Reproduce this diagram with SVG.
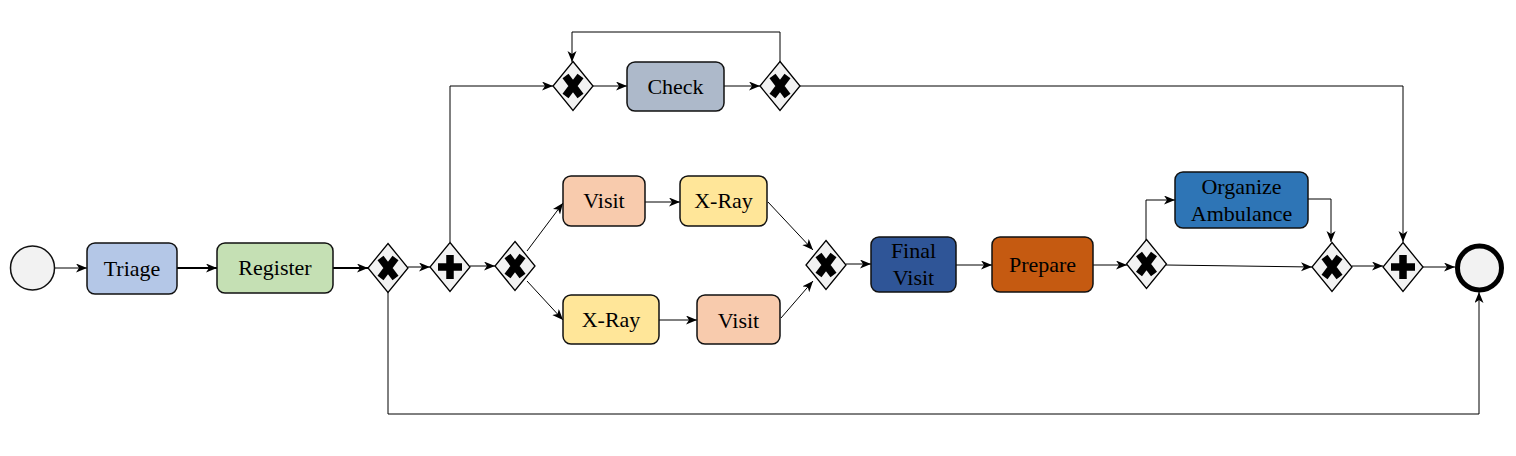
<svg xmlns="http://www.w3.org/2000/svg" xmlns:xlink="http://www.w3.org/1999/xlink" width="1516" height="456" viewBox="0 0 1516 456">
<style>
.task{stroke:#111;stroke-width:1.5}
.lbl{font-size:22px;fill:#000;text-anchor:middle}
.gw{fill:#f2f2f2;stroke:#000;stroke-width:1.3}
.gm{stroke:#000;fill:none}
.c{fill:none;stroke:#000;stroke-width:1;marker-end:url(#arr)}
.ct{stroke-width:2}
</style>
<defs>
<marker id="arr" markerUnits="userSpaceOnUse" markerWidth="13" markerHeight="10" refX="11" refY="4.5" orient="auto">
<path d="M0,0 L11,4.5 L0,9 L3,4.5 Z" fill="#000"/>
</marker>
<g id="xg">
<polygon class="gw" points="0,-24.5 20,0 0,24.5 -20,0"/>
<path class="gm" d="M-7.5,-10 L7.5,10 M7.5,-10 L-7.5,10" stroke-width="7.5"/>
</g>
<g id="pg">
<polygon class="gw" points="0,-24.5 20,0 0,24.5 -20,0"/>
<path class="gm" d="M0,-12 V12 M-12,0 H12" stroke-width="7.5"/>
</g>
</defs>
<rect width="1516" height="456" fill="#fff"/>
<g id="connectors">
<path class="c" d="M54,268 H87"/>
<path class="c ct" d="M177,268 H217"/>
<path class="c ct" d="M333,268 H368"/>
<path class="c" d="M408,267 H430"/>
<path class="c" d="M470,266 H495"/>
<path class="c" d="M450,242 V86 H553"/>
<path class="c" d="M593,86 H627"/>
<path class="c" d="M724,86 H760"/>
<path class="c" d="M780,62 V32 H572 V62"/>
<path class="c" d="M800,86 H1403 V242"/>
<path class="c" d="M527,251 L563,203"/>
<path class="c" d="M527,281 L563,320"/>
<path class="c" d="M645,202 H680"/>
<path class="c" d="M659,320 H697"/>
<path class="c" d="M768,202 L813,250"/>
<path class="c" d="M781,318 L813,281"/>
<path class="c" d="M846,264 H871"/>
<path class="c" d="M956,265 H992"/>
<path class="c" d="M1093,265 H1127"/>
<path class="c" d="M1146,240 V200 H1175"/>
<path class="c" d="M1166,265 L1312,267"/>
<path class="c" d="M1308,199 H1331 V242"/>
<path class="c" d="M1352,266 H1383"/>
<path class="c" d="M1423,267 H1455"/>
<path class="c" d="M388,292 V414 H1479 V292"/>
</g>
<g id="start"><circle cx="32.5" cy="268" r="22" fill="#f2f2f2" stroke="#111" stroke-width="1.5"/></g>
<g font-family="Liberation Serif, Times New Roman, serif">
<g id="triage"><rect class="task" x="87" y="243" width="90" height="51" rx="8" fill="#b4c7e7"/><text class="lbl" x="132" y="276">Triage</text></g>
<g id="register"><rect class="task" x="217" y="243" width="116" height="50" rx="8" fill="#c5e0b4"/><text class="lbl" x="275" y="275">Register</text></g>
<g id="check"><rect class="task" x="627" y="62" width="97" height="49" rx="8" fill="#adb9ca"/><text class="lbl" x="675.5" y="94">Check</text></g>
<g id="visit1"><rect class="task" x="563" y="176" width="82" height="50" rx="8" fill="#f8cbad"/><text class="lbl" x="604" y="208">Visit</text></g>
<g id="xray1"><rect class="task" x="680" y="176" width="87" height="50" rx="8" fill="#ffe699"/><text class="lbl" x="723.5" y="208">X-Ray</text></g>
<g id="xray2"><rect class="task" x="563" y="295" width="96" height="49" rx="8" fill="#ffe699"/><text class="lbl" x="611" y="327">X-Ray</text></g>
<g id="visit2"><rect class="task" x="697" y="295" width="83" height="49" rx="8" fill="#f8cbad"/><text class="lbl" x="738.5" y="328">Visit</text></g>
<g id="finalvisit"><rect class="task" x="871" y="237" width="85" height="55" rx="8" fill="#2f5597"/><text class="lbl" x="913.5" y="258">Final</text><text class="lbl" x="913.5" y="285">Visit</text></g>
<g id="prepare"><rect class="task" x="992" y="237" width="101" height="55" rx="8" fill="#c55a11"/><text class="lbl" x="1042.5" y="272">Prepare</text></g>
<g id="ambulance"><rect class="task" x="1175" y="172" width="133" height="56" rx="8" fill="#2e75b6"/><text class="lbl" x="1241.5" y="194">Organize</text><text class="lbl" x="1241.5" y="221">Ambulance</text></g>
</g>
<g id="gw1"><use xlink:href="#xg" href="#xg" transform="translate(388,268)"/></g>
<g id="gw2"><use xlink:href="#pg" href="#pg" transform="translate(450,267)"/></g>
<g id="gw3"><use xlink:href="#xg" href="#xg" transform="translate(515,266)"/></g>
<g id="gwc1"><use xlink:href="#xg" href="#xg" transform="translate(573,86)"/></g>
<g id="gwc2"><use xlink:href="#xg" href="#xg" transform="translate(780,86)"/></g>
<g id="gw4"><use xlink:href="#xg" href="#xg" transform="translate(826,265)"/></g>
<g id="gw5"><use xlink:href="#xg" href="#xg" transform="translate(1146.5,264)"/></g>
<g id="gw6"><use xlink:href="#xg" href="#xg" transform="translate(1332,267)"/></g>
<g id="gw7"><use xlink:href="#pg" href="#pg" transform="translate(1403,267)"/></g>
<g id="end"><circle cx="1479.5" cy="268" r="22" fill="#f2f2f2" stroke="#000" stroke-width="5"/></g>
</svg>
